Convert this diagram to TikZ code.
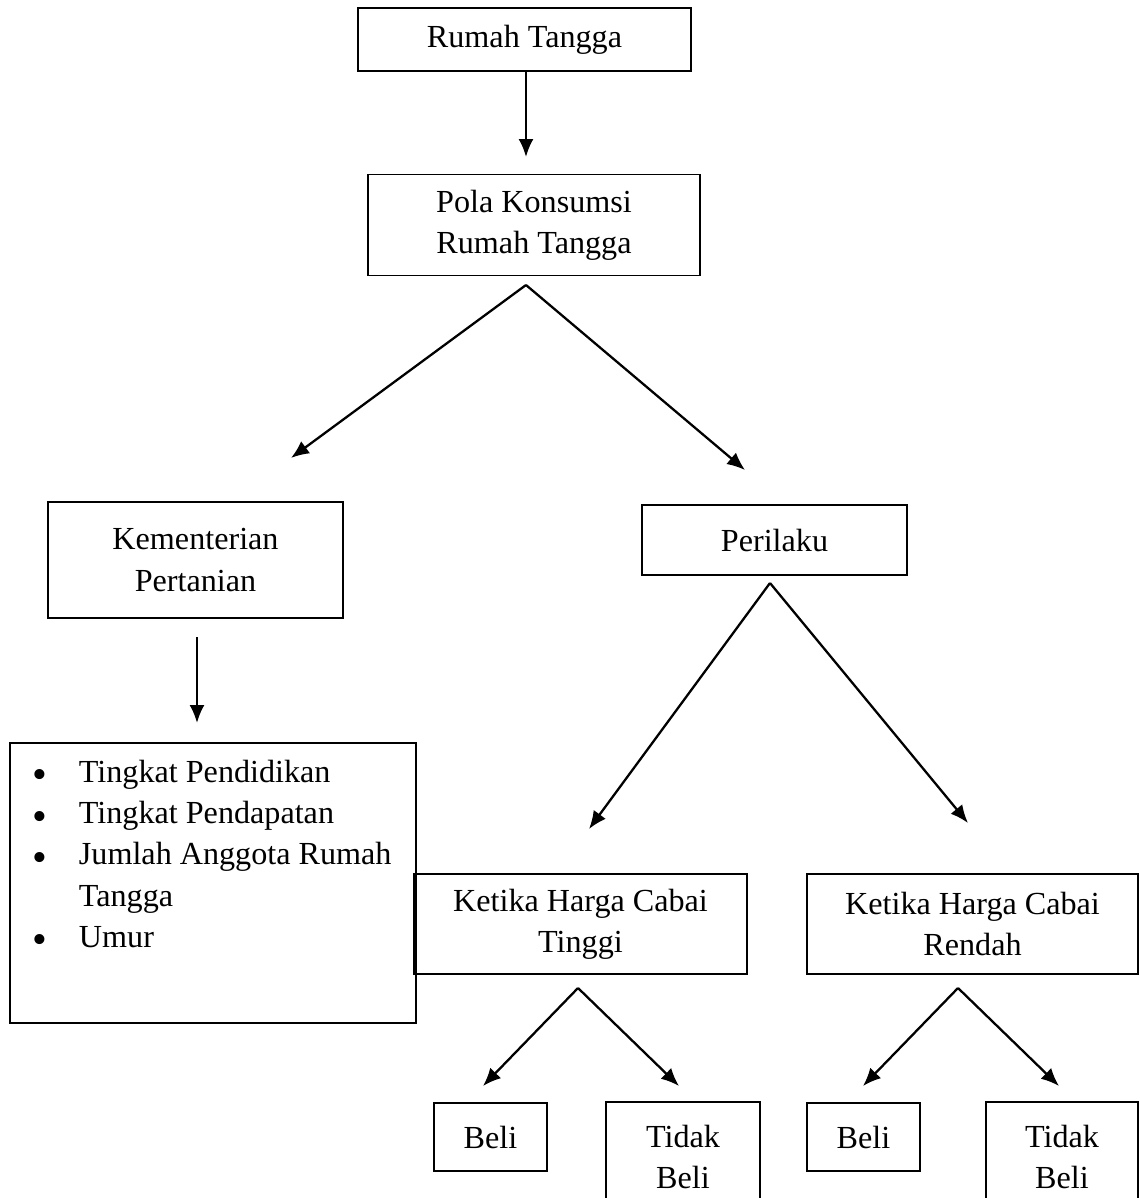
\documentclass[tikz,border=0pt]{standalone}
\usepackage{fontspec}
\setmainfont{Liberation Serif}
\usetikzlibrary{arrows.meta}

\tikzset{
  kotak/.style={draw, line width=1.1pt, rectangle, align=center, inner sep=0pt},
  panah/.style={-{Latex[length=0.36cm,width=0.3cm]}, line width=1.3pt},
}
\newcommand{\butir}{\raisebox{-3.5pt}[0pt][0pt]{\fontsize{24}{23.4}\selectfont\textbullet}}

\begin{document}
\begin{tikzpicture}[x=0.02cm, y=-0.02cm, font=\fontsize{18.3}{23.4}\selectfont]
  \clip (0,0) rectangle (1140,1198);

  \node[kotak, minimum width=6.66cm, minimum height=1.26cm] (rt) at (524.5,39.5) {Rumah Tangga};
  \node[kotak, minimum width=6.64cm, minimum height=2.02cm] (pola) at (534,225) {Pola Konsumsi\\Rumah Tangga};
  \node[kotak, minimum width=5.9cm, minimum height=2.32cm] (kem) at (195.5,560) {Kementerian\\Pertanian};
  \node[kotak, minimum width=5.3cm, minimum height=1.4cm] (per) at (774.5,540) {Perilaku};
  \node[kotak, minimum width=8.12cm, minimum height=5.6cm, anchor=north west] (faktor) at (9,742)
    {\parbox[t][5.6cm][t]{8.12cm}{\vspace{0.22cm}\hspace{0.45cm}%
      \begin{tabular}[t]{@{}p{0.93cm}@{}l@{}}
        \butir & Tingkat Pendidikan\\
        \butir & Tingkat Pendapatan\\
        \butir & Jumlah Anggota Rumah\\
               & Tangga\\
        \butir & Umur
      \end{tabular}}};
  \node[kotak, minimum width=6.66cm, minimum height=2cm] (tinggi) at (580.5,924) {Ketika Harga Cabai\\Tinggi};
  \node[kotak, minimum width=6.62cm, minimum height=2cm] (rendah) at (972.5,924) {Ketika Harga Cabai\\Rendah};
  \node[kotak, minimum width=2.26cm, minimum height=1.36cm] (beli1) at (490.5,1137) {Beli};
  \node[kotak, minimum width=3.08cm, minimum height=2.2cm] (tbeli1) at (683,1157) {Tidak\\Beli};
  \node[kotak, minimum width=2.26cm, minimum height=1.36cm] (beli2) at (863.5,1137) {Beli};
  \node[kotak, minimum width=3.04cm, minimum height=2.2cm] (tbeli2) at (1062,1157) {Tidak\\Beli};

  \coordinate (rt-a) at (526,70);   \coordinate (pola-t) at (526,157);
  \coordinate (pola-a) at (526,285); \coordinate (kem-t) at (291,458); \coordinate (per-t) at (745,470);
  \coordinate (kem-a) at (197,637); \coordinate (faktor-t) at (197,723);
  \coordinate (per-a) at (770,583); \coordinate (tinggi-t) at (589,829); \coordinate (rendah-t) at (968,823);
  \coordinate (tinggi-a) at (578,988); \coordinate (beli1-t) at (483,1086); \coordinate (tbeli1-t) at (679,1086);
  \coordinate (rendah-a) at (958,988); \coordinate (beli2-t) at (863,1086); \coordinate (tbeli2-t) at (1059,1086);

  \path[panah] (rt-a) edge (pola-t);
  \path[panah] (pola-a) edge (kem-t);
  \path[panah] (pola-a) edge (per-t);
  \path[panah] (kem-a) edge (faktor-t);
  \path[panah] (per-a) edge (tinggi-t);
  \path[panah] (per-a) edge (rendah-t);
  \path[panah] (tinggi-a) edge (beli1-t);
  \path[panah] (tinggi-a) edge (tbeli1-t);
  \path[panah] (rendah-a) edge (beli2-t);
  \path[panah] (rendah-a) edge (tbeli2-t);

\end{tikzpicture}
\end{document}
